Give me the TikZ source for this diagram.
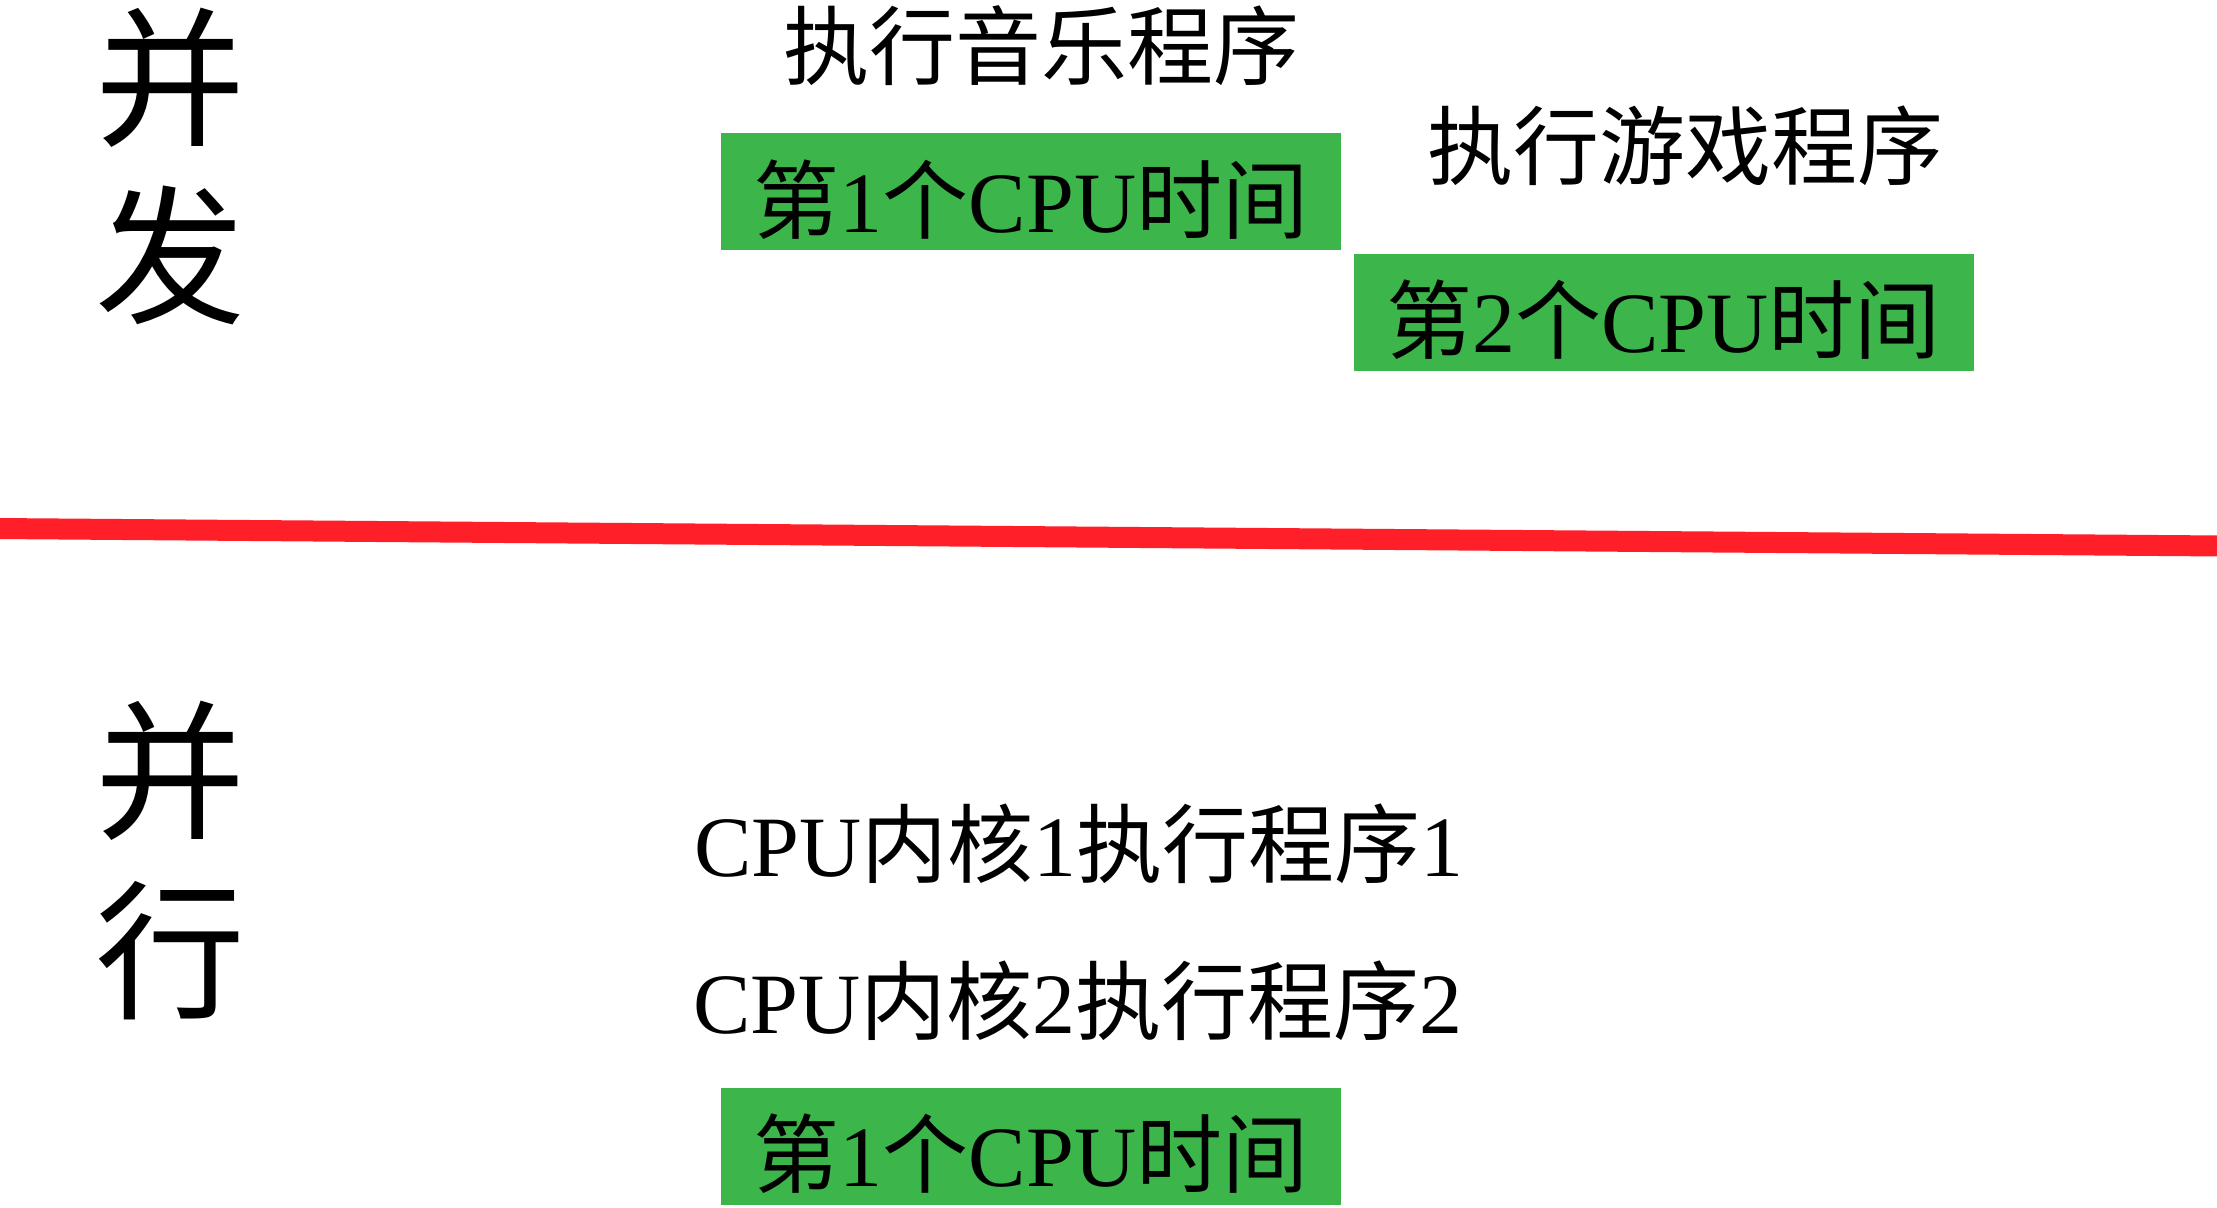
\documentclass[tikz,border=0pt]{standalone}
\usepackage{fontspec}
\setmainfont{Liberation Serif}
\newfontfamily\cjk{Noto Sans CJK SC}
\definecolor{boxgreen}{RGB}{60,181,74}
\definecolor{sepred}{RGB}{255,31,41}
\begin{document}
\begin{tikzpicture}[x=0.5pt,y=-0.5pt,
  bigchar/.style={anchor=base,inner sep=0pt,font=\cjk\fontsize{75}{75}\selectfont},
  label/.style={anchor=base,inner sep=0pt,font=\fontsize{43}{43}\selectfont},
  greenbox/.style={fill=boxgreen,inner sep=0pt,minimum width=310pt,minimum height=58.5pt,
    text height=40.5pt,text depth=0pt,font=\fontsize{43}{43}\selectfont}]
\useasboundingbox (0,0) rectangle (2217,1208);
% separator
\coordinate (sl) at (-5,528.5);
\coordinate (sr) at (2222,546);
\draw[sepred,line width=10.5pt] (sl) -- (sr);
% left titles
\node[bigchar] (b1) at (170,135) {并};
\node[bigchar] (b2) at (170,313) {发};
\node[bigchar] (b3) at (170,827) {并};
\node[bigchar] (b4) at (170,1007) {行};
% concurrency
\node[label] (music) at (1041,79) {\cjk 执行音乐程序};
\node[label] (game) at (1685,179) {\cjk 执行游戏程序};
\node[greenbox] (cpu1) at (1031,192) {{\cjk 第}1{\cjk 个}CPU{\cjk 时间}};
\node[greenbox] (cpu2) at (1663.5,312.5) {{\cjk 第}2{\cjk 个}CPU{\cjk 时间}};
% parallelism
\node[label] (core1) at (1079,876) {CPU{\cjk 内核}1{\cjk 执行程序}1};
\node[label] (core2) at (1078,1033) {CPU{\cjk 内核}2{\cjk 执行程序}2};
\node[greenbox] (cpu3) at (1031,1146) {{\cjk 第}1{\cjk 个}CPU{\cjk 时间}};
\end{tikzpicture}
\end{document}
